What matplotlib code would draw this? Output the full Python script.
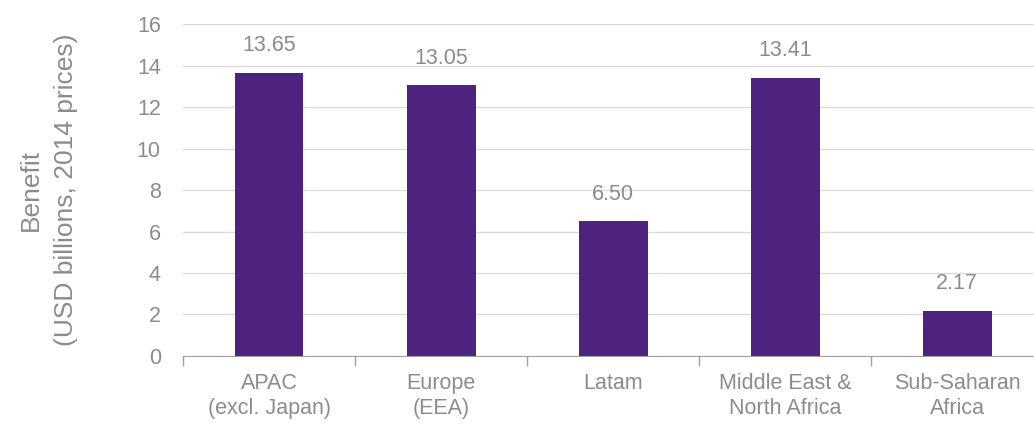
# 各地区收益柱状图
import numpy as np
import matplotlib.pyplot as plt

categories = ['APAC\n(excl. Japan)', 'Europe\n(EEA)', 'Latam',
              'Middle East &\nNorth Africa', 'Sub-Saharan\nAfrica']
values = [13.65, 13.05, 6.50, 13.41, 2.17]
y_ticks = [0, 2, 4, 6, 8, 10, 12, 14, 16]

bar_color = '#4e2380'
text_color = '#8c8c8c'
grid_color = '#dcdcdc'

plt.rcParams['font.family'] = ['Liberation Sans', 'DejaVu Sans']

fig = plt.figure(figsize=(10.34, 4.32), dpi=100)
ax = fig.add_axes([0.177, 0.176, 0.832, 0.768])

x = np.arange(len(categories))
ax.bar(x, values, width=0.4, color=bar_color, zorder=3)

for xi, v in zip(x, values):
    ax.annotate(f'{v:.2f}', (xi, v), xytext=(0, 12), textcoords='offset points',
                ha='center', va='bottom', fontsize=15.5, color=text_color)

ax.set_xlim(-0.5, len(categories) - 0.5)
ax.set_ylim(0, 16)
ax.set_yticks(y_ticks)
ax.set_yticklabels([str(t) for t in y_ticks], fontsize=15.5, color=text_color)
ax.yaxis.grid(True, color=grid_color, linewidth=1, zorder=0)
ax.tick_params(axis='y', length=0, pad=16)

ax.set_xticks(x)
ax.set_xticklabels(categories, fontsize=15.5, color=text_color, linespacing=1.3)
ax.tick_params(axis='x', which='major', length=0, pad=12)
ax.set_xticks(np.arange(len(categories) + 1) - 0.5, minor=True)
ax.tick_params(axis='x', which='minor', length=7, color='#a0a0a0', width=1)

for side in ['top', 'right', 'left']:
    ax.spines[side].set_visible(False)
ax.spines['bottom'].set_color('#a0a0a0')
ax.spines['bottom'].set_zorder(4)

ax.set_ylabel('Benefit\n(USD billions, 2014 prices)', fontsize=19,
              color=text_color, labelpad=42, linespacing=1.6)

fig.savefig('out.png', dpi=100)
